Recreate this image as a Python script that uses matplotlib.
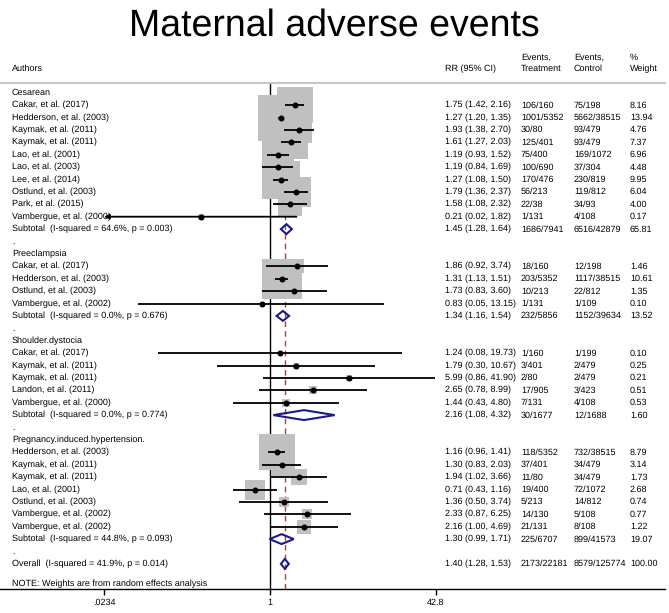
"""Forest plot: maternal adverse events (Stata metan style)"""
import matplotlib
matplotlib.use("Agg")
import matplotlib.pyplot as plt
import matplotlib.transforms as mtransforms
import numpy as np

plt.rcParams["font.family"] = ["Liberation Sans", "DejaVu Sans"]
plt.rcParams["text.hinting"] = "no_hinting"

# ---------------------------------------------------------------- data
groups = ["Cesarean", "Preeclampsia", "Shoulder.dystocia",
          "Pregnancy.induced.hypertension."]

study_group = [0] * 10 + [1] * 4 + [2] * 5 + [3] * 7
authors = [
    "Cakar, et al. (2017)", "Hedderson, et al. (2003)", "Kaymak, et al. (2011)",
    "Kaymak, et al. (2011)", "Lao, et al. (2001)", "Lao, et al. (2003)",
    "Lee, et al. (2014)", "Ostlund, et al. (2003)", "Park, et al. (2015)",
    "Vambergue, et al. (2000)",
    "Cakar, et al. (2017)", "Hedderson, et al. (2003)", "Ostlund, et al. (2003)",
    "Vambergue, et al. (2002)",
    "Cakar, et al. (2017)", "Kaymak, et al. (2011)", "Kaymak, et al. (2011)",
    "Landon, et al. (2011)", "Vambergue, et al. (2000)",
    "Hedderson, et al. (2003)", "Kaymak, et al. (2011)", "Kaymak, et al. (2011)",
    "Lao, et al. (2001)", "Ostlund, et al. (2003)", "Vambergue, et al. (2002)",
    "Vambergue, et al. (2002)",
]
rr = [1.75, 1.27, 1.93, 1.61, 1.19, 1.19, 1.27, 1.79, 1.58, 0.21,
      1.86, 1.31, 1.73, 0.83,
      1.24, 1.79, 5.99, 2.65, 1.44,
      1.16, 1.30, 1.94, 0.71, 1.36, 2.33, 2.16]
ci_lo = [1.42, 1.20, 1.38, 1.27, 0.93, 0.84, 1.08, 1.36, 1.08, 0.02,
         0.92, 1.13, 0.83, 0.05,
         0.08, 0.30, 0.86, 0.78, 0.43,
         0.96, 0.83, 1.02, 0.43, 0.50, 0.87, 1.00]
ci_hi = [2.16, 1.35, 2.70, 2.03, 1.52, 1.69, 1.50, 2.37, 2.32, 1.82,
         3.74, 1.51, 3.60, 13.15,
         19.73, 10.67, 41.90, 8.99, 4.80,
         1.41, 2.03, 3.66, 1.16, 3.74, 6.25, 4.69]
events_t = ["106/160", "1001/5352", "30/80", "125/401", "75/400", "100/690",
            "170/476", "56/213", "22/38", "1/131",
            "18/160", "203/5352", "10/213", "1/131",
            "1/160", "3/401", "2/80", "17/905", "7/131",
            "118/5352", "37/401", "11/80", "19/400", "5/213", "14/130", "21/131"]
events_c = ["75/198", "5662/38515", "93/479", "93/479", "169/1072", "37/304",
            "230/819", "119/812", "34/93", "4/108",
            "12/198", "1117/38515", "22/812", "1/109",
            "1/199", "2/479", "2/479", "3/423", "4/108",
            "732/38515", "34/479", "34/479", "72/1072", "14/812", "5/108", "8/108"]
weight = [8.16, 13.94, 4.76, 7.37, 6.96, 4.48, 9.95, 6.04, 4.00, 0.17,
          1.46, 10.61, 1.35, 0.10,
          0.10, 0.25, 0.21, 0.51, 0.53,
          8.79, 3.14, 1.73, 2.68, 0.74, 0.77, 1.22]

sub_i2 = ["64.6%", "0.0%", "0.0%", "44.8%"]
sub_p = ["0.003", "0.676", "0.774", "0.093"]
sub_rr = [1.45, 1.34, 2.16, 1.30]
sub_lo = [1.28, 1.16, 1.08, 0.99]
sub_hi = [1.64, 1.54, 4.32, 1.71]
sub_et = ["1686/7941", "232/5856", "30/1677", "225/6707"]
sub_ec = ["6516/42879", "1152/39634", "12/1688", "899/41573"]
sub_w = [65.81, 13.52, 1.60, 19.07]

overall = dict(rr=1.40, lo=1.28, hi=1.53, et="2173/22181", ec="8579/125774",
               w=100.00, i2="41.9%", p="0.014")

x_ticks = [0.0234, 1, 42.8]
x_tick_labels = [".0234", "1", "42.8"]

# ---------------------------------------------------------------- layout
W, H = 669, 613
fig = plt.figure(figsize=(W / 100, H / 100), dpi=100)
ax_top, ax_bot, ax_right = 83, 589, 665
ax = fig.add_axes([0, 1 - ax_bot / H, ax_right / W, (ax_bot - ax_top) / H])

px_per_log = 44.19
x_one = 270
ax.set_xscale("log")
ax.set_xlim(np.exp(-x_one / px_per_log), np.exp((ax_right - x_one) / px_per_log))
row0, row_h = 92.7, 12.4
ax.set_ylim((ax_bot - row0) / row_h, (ax_top - row0) / row_h)

for s in ["top", "left", "right"]:
    ax.spines[s].set_visible(False)
ax.spines["bottom"].set_linewidth(1.0)
ax.set_yticks([])
ax.set_xticks(x_ticks)
ax.set_xticklabels(x_tick_labels)
ax.xaxis.set_minor_locator(matplotlib.ticker.NullLocator())
ax.tick_params(axis="x", direction="out", length=4.5, width=1.0, pad=2,
               labelsize=6.5)

tr = mtransforms.blended_transform_factory(ax.transAxes, ax.transData)
col_x = {"auth": 12, "rr": 445, "et": 521, "ec": 574, "w": 630}
FS = 6.5


def put(col, y, s, **kw):
    ax.text(col_x[col] / ax_right, y, s, transform=tr, fontsize=FS,
            va="center", ha="left", clip_on=False, **kw)


# header
ax.axhline(ax.get_ylim()[1], color="#c8c8c8", lw=1.5, clip_on=False)
y_h1, y_h2 = (58 - row0) / row_h, (69 - row0) / row_h
put("auth", y_h2, "Authors")
put("rr", y_h2, "RR (95% CI)")
put("et", y_h1, "Events,")
put("et", y_h2, "Treatment")
put("ec", y_h1, "Events,")
put("ec", y_h2, "Control")
put("w", y_h1, "%")
put("w", y_h2, "Weight")

fig.text(0.5, 1 - 26 / H, "Maternal adverse events", ha="center", va="center",
         fontsize=27)

# reference lines
ax.axvline(1, color="black", lw=1.0, zorder=1)
ax.axvline(overall["rr"], color="#c0392b", lw=1.0, ls=(0, (4, 3)), zorder=1)

x_min_clip = 1 / 42.8
box_k = 12.32 * 0.72  # box side in points per sqrt(weight)
navy = "#1a1a8c"


def diamond(y, est, lo, hi):
    ax.fill([lo, est, hi, est, lo], [y, y - 0.4, y, y + 0.4, y],
            facecolor="none", edgecolor=navy, lw=1.5, zorder=6)


row = 0
for g, gname in enumerate(groups):
    put("auth", row, gname)
    row += 1
    idx = [i for i, sg in enumerate(study_group) if sg == g]
    for i in idx:
        ax.scatter([rr[i]], [row], marker="s", s=(box_k * np.sqrt(weight[i])) ** 2,
                   color="#c0c0c0", linewidths=0, zorder=3)
        if ci_lo[i] < x_min_clip:
            ax.annotate("", xy=(x_min_clip, row), xytext=(ci_hi[i], row),
                        arrowprops=dict(arrowstyle="-|>", color="black", lw=1.3,
                                        mutation_scale=7, shrinkA=0, shrinkB=0),
                        zorder=5)
        else:
            ax.plot([ci_lo[i], ci_hi[i]], [row, row], color="black", lw=1.3,
                    zorder=4, solid_capstyle="butt")
        ax.plot([rr[i]], [row], "o", color="black", ms=3.3, zorder=5)
        put("auth", row, authors[i])
        put("rr", row, f"{rr[i]:.2f} ({ci_lo[i]:.2f}, {ci_hi[i]:.2f})")
        put("et", row, events_t[i])
        put("ec", row, events_c[i])
        put("w", row, f"{weight[i]:.2f}")
        row += 1
    diamond(row, sub_rr[g], sub_lo[g], sub_hi[g])
    put("auth", row, f"Subtotal  (I-squared = {sub_i2[g]}, p = {sub_p[g]})")
    put("rr", row, f"{sub_rr[g]:.2f} ({sub_lo[g]:.2f}, {sub_hi[g]:.2f})")
    put("et", row, sub_et[g])
    put("ec", row, sub_ec[g])
    put("w", row, f"{sub_w[g]:.2f}")
    row += 1
    put("auth", row, ".")
    row += 1

diamond(row, overall["rr"], overall["lo"], overall["hi"])
put("auth", row, f"Overall  (I-squared = {overall['i2']}, p = {overall['p']})")
put("rr", row, f"{overall['rr']:.2f} ({overall['lo']:.2f}, {overall['hi']:.2f})")
put("et", row, overall["et"])
put("ec", row, overall["ec"])
put("w", row, f"{overall['w']:.2f}")
put("auth", row + 1.6, "NOTE: Weights are from random effects analysis")

fig.savefig("out.png", dpi=100)
